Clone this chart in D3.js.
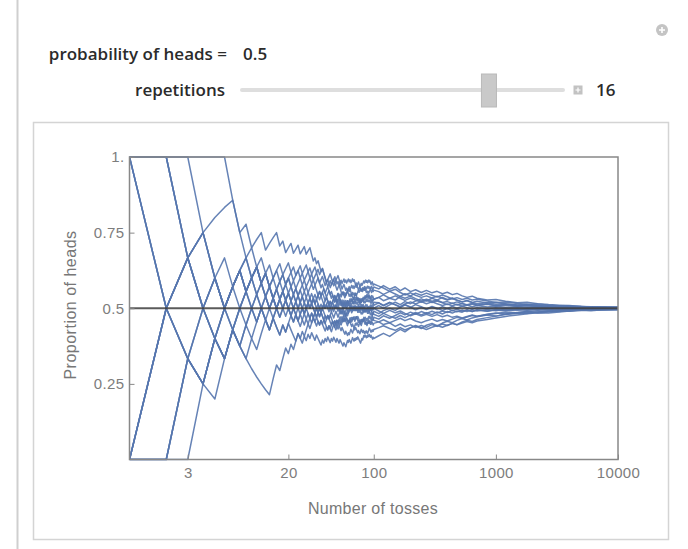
<!DOCTYPE html>
<html>
<head>
<meta charset="utf-8">
<script src="https://cdn.jsdelivr.net/npm/d3@7"></script>
<style>
  body { margin: 0; background: #fff; }
  svg { display: block; }
  .ctl { font-family: "Open Sans", "Noto Sans", sans-serif; font-size: 17px; fill: #2b2b2b; font-weight: 600; }
  .ax text { font-family: "Liberation Sans", Arial, sans-serif; font-size: 15px; fill: #7d7d7d; letter-spacing: 0.4px; }
  .ax line { stroke: #888; stroke-width: 1; }
</style>
</head>
<body>
<svg id="chart" width="688" height="549"></svg>
<script>
// controls
const probHeads = '0.5';
const repetitions = 16;

// axes
const xTicks = [3, 20, 100, 1000, 10000];
const yTicks = [0.25, 0.5, 0.75, 1];
const yTickLabels = ['0.25', '0.5', '0.75', '1.'];
const xTitle = 'Number of tosses';
const yTitle = 'Proportion of heads';

// first 100 tosses of each run, 1 = heads (spaces only for reading)
const tosses = [
  '1011001 101101001101101011010110101100100 0110100101 1010110011 1001011010 1000100110 1101011010 1100010101',
  '100011 0110100010010100010010101001000101 0100101001 0010001001 1010011001 0101000011 0110100101 0100100010',
  '11001011 01100101001101001010110100100110 1001011010 0100101001 0111001101 0101100110 0010110100 1000100110',
  '11010 000000000 11011010110101101100101000 1010011001 1101011010 0010110100 1100010101 0101000011 1001011010',
  '1110001101 001010011001000110100101001011 0101100110 0110100101 1011010110 1010011001 0100101001 0111001101',
  '1111110010 110111 01011011011011 0010100100 0010110100 1100010101 1110110101 1010011001 1011010110 1010110011',
  '0111111000101 010110100101101011010010110 1100010101 1000100110 1010110011 0110100101 1001011010 1010011001',
  '010011110 1101011010110110101101011001100 1101011010 1010011001 0101000011 1011101101 0110100101 0111001101',
  '01101101110 01001011010010110100101101001 1001011010 0101000011 1101011010 1010011001 0010110100 0101100110',
  '0011101110110 101101101011011010110101100 0111001101 1001011010 1101011010 0101100110 1110110101 1010011001',
  '00101011 01010011010100101101001010110100 0101000011 0110100101 0010001001 1010011001 1100010101 0100101001',
  '0001011 0101101 01101001011001101001010110 1101011010 1100010101 1011010110 1010011001 1011101101 0010110100',
  '10100110 10110100110101101001011010110100 1000100110 1001011010 0101100110 0100101001 0111001101 0101000011',
  '010010100 1011010010110101001011010101000 0010110100 0100100010 0101100110 1000100110 0100101001 1100010101',
  '110000111 1010010110100100101101001001000 1100010101 0010110100 0111001101 0101000011 0110100101 1010011001',
  '0011001011 011010110010110100101101001010 1010110011 1010011001 0100101001 1001011010 1100010101 1011010110'
];

// proportion of heads after that, read at these toss counts
const lateN = [110,120,135,150,165,180,200,220,245,270,300,330,365,400,440,480,530,580,640,700,850,1000,1200,1500,1800,2200,2700,3300,4000,5000,6000,7500,10000];
const lateP = [
  [.536,.525,.533,.527,.539,.533,.540,.532,.524,.530,.523,.527,.519,.522,.516,.521,.515,.512,.516,.511,.514,.509,.512,.508,.510,.506,.508,.505,.506,.503,.504,.502,.503],
  [.409,.417,.407,.420,.430,.422,.435,.441,.433,.444,.450,.442,.451,.457,.452,.460,.466,.461,.468,.472,.478,.474,.481,.485,.483,.488,.491,.489,.493,.495,.494,.497,.496],
  [.473,.483,.474,.467,.476,.469,.478,.486,.478,.485,.479,.488,.481,.489,.484,.491,.487,.494,.489,.495,.491,.496,.493,.497,.495,.498,.496,.499,.497,.499,.498,.500,.499],
  [.455,.446,.452,.440,.448,.439,.445,.436,.443,.437,.446,.440,.448,.443,.450,.446,.455,.460,.456,.463,.469,.474,.479,.483,.486,.484,.488,.491,.490,.493,.495,.494,.496],
  [.509,.500,.511,.520,.512,.522,.515,.524,.531,.524,.533,.527,.536,.529,.534,.527,.521,.526,.519,.523,.517,.520,.514,.511,.513,.509,.507,.508,.505,.506,.504,.503,.502],
  [.564,.575,.563,.571,.558,.567,.555,.561,.552,.559,.551,.556,.548,.553,.545,.549,.541,.536,.540,.533,.527,.529,.523,.518,.520,.515,.512,.510,.508,.506,.505,.504,.503],
  [.518,.508,.519,.511,.503,.512,.504,.495,.503,.496,.504,.497,.505,.499,.506,.500,.507,.502,.497,.502,.498,.502,.499,.502,.500,.503,.501,.502,.500,.501,.500,.501,.500],
  [.555,.546,.556,.547,.539,.548,.541,.550,.543,.550,.543,.537,.544,.538,.531,.535,.529,.533,.527,.530,.524,.519,.521,.516,.513,.514,.510,.508,.509,.506,.505,.503,.504],
  [.491,.483,.493,.485,.491,.483,.475,.482,.474,.480,.473,.479,.472,.477,.470,.474,.468,.473,.478,.474,.480,.484,.481,.486,.489,.487,.491,.493,.492,.495,.496,.495,.497],
  [.573,.567,.556,.563,.552,.544,.551,.543,.536,.541,.534,.540,.533,.527,.532,.526,.521,.525,.519,.515,.518,.513,.515,.511,.508,.509,.506,.507,.505,.504,.502,.503,.502],
  [.455,.462,.452,.460,.467,.459,.466,.458,.452,.459,.464,.457,.463,.458,.464,.470,.466,.471,.476,.473,.479,.483,.487,.485,.489,.492,.490,.493,.495,.494,.496,.497,.497],
  [.536,.544,.533,.541,.533,.526,.534,.527,.520,.526,.519,.524,.518,.512,.517,.511,.516,.510,.514,.509,.513,.508,.511,.507,.509,.506,.504,.505,.503,.504,.502,.503,.501],
  [.482,.492,.500,.493,.503,.511,.503,.512,.505,.498,.506,.500,.493,.499,.492,.497,.490,.495,.489,.494,.490,.494,.491,.495,.493,.496,.494,.497,.496,.498,.497,.498,.498],
  [.436,.442,.433,.427,.436,.428,.436,.443,.436,.430,.437,.443,.437,.444,.450,.445,.451,.456,.452,.458,.463,.468,.473,.478,.482,.485,.484,.488,.491,.493,.492,.495,.495],
  [.464,.475,.467,.476,.485,.478,.487,.480,.489,.483,.490,.484,.491,.486,.493,.488,.494,.489,.495,.491,.496,.492,.497,.494,.498,.496,.499,.497,.499,.498,.499,.499,.500],
  [.518,.510,.519,.512,.505,.514,.521,.514,.522,.515,.521,.515,.509,.514,.508,.513,.507,.511,.505,.509,.504,.507,.503,.506,.503,.505,.502,.504,.502,.503,.501,.502,.501]
];

const svg = d3.select('#chart');

// left rule of the notebook cell
svg.append('line').attr('x1', 17.5).attr('x2', 17.5).attr('y1', 0).attr('y2', 549)
  .attr('stroke', '#cfcfcf').attr('stroke-width', 2);

// the little "+" options button, top right
const opt = svg.append('g').attr('transform', 'translate(662,30)');
opt.append('circle').attr('r', 6).attr('fill', '#c4c4c4');
opt.append('path').attr('d', 'M-3,0H3M0,-3V3').attr('stroke', '#fff').attr('stroke-width', 1.6);

// controls
svg.append('text').attr('class', 'ctl').attr('x', 227).attr('y', 60).attr('text-anchor', 'end').text('probability of heads =');
svg.append('text').attr('class', 'ctl').attr('x', 243).attr('y', 60).text(probHeads);
svg.append('text').attr('class', 'ctl').attr('x', 225).attr('y', 96).attr('text-anchor', 'end').text('repetitions');

// slider
const sl = d3.scaleLinear().domain([1, 20]).range([245, 554]);
svg.append('rect').attr('x', 240).attr('y', 88).attr('width', 325).attr('height', 4).attr('rx', 2)
  .attr('fill', '#dedede');
svg.append('rect').attr('x', sl(repetitions) - 7.5).attr('y', 74).attr('width', 15).attr('height', 33)
  .attr('fill', '#c9c9c9').attr('stroke', '#b9b9b9');
const pl = svg.append('g').attr('transform', 'translate(578,90)');
pl.append('rect').attr('x', -4.5).attr('y', -4.5).attr('width', 9).attr('height', 9).attr('fill', '#c2c2c2');
pl.append('path').attr('d', 'M-2.5,0H2.5M0,-2.5V2.5').attr('stroke', '#fff').attr('stroke-width', 1.2);
svg.append('text').attr('class', 'ctl').attr('x', 596).attr('y', 96).text(repetitions);

// plot panel
svg.append('rect').attr('x', 33.5).attr('y', 122.5).attr('width', 635).attr('height', 417)
  .attr('fill', '#fff').attr('stroke', '#d4d4d4').attr('stroke-width', 1.5);

const x = d3.scaleLog().domain([1, 10000]).range([129.5, 618]);
const y = d3.scaleLinear().domain([0, 1]).range([459.5, 157]);

svg.append('defs').append('clipPath').attr('id', 'clip')
  .append('rect').attr('x', x(1)).attr('y', y(1) - 1).attr('width', x(10000) - x(1)).attr('height', y(0) - y(1) + 2);

// build each run: running proportion over the toss string, then the later readings
const runs = tosses.map((s, i) => {
  const t = s.replace(/ /g, '');
  const pts = [];
  let h = 0;
  for (let k = 0; k < t.length; k++) {
    h += +t[k];
    pts.push([k + 1, h / (k + 1)]);
  }
  lateN.forEach((n, j) => pts.push([n, lateP[i][j]]));
  return pts;
});

const line = d3.line().x(d => x(d[0])).y(d => y(d[1]));

svg.append('g').attr('clip-path', 'url(#clip)')
  .selectAll('path').data(runs).join('path')
  .attr('d', line)
  .attr('fill', 'none')
  .attr('stroke', '#5576ae')
  .attr('stroke-width', 1.5)
  .attr('stroke-opacity', 0.9)
  .attr('stroke-linejoin', 'round');

// reference line at the true probability
svg.append('line').attr('x1', x(1)).attr('x2', x(10000)).attr('y1', y(0.5)).attr('y2', y(0.5))
  .attr('stroke', '#3d3d3d').attr('stroke-width', 2).attr('stroke-opacity', 0.85);

// frame
svg.append('rect').attr('x', x(1)).attr('y', y(1)).attr('width', x(10000) - x(1)).attr('height', y(0) - y(1))
  .attr('fill', 'none').attr('stroke', '#888').attr('stroke-width', 1.5);

// axes
const xAxis = d3.axisBottom(x).tickValues(xTicks).tickFormat(d3.format('d')).tickSize(-5).tickPadding(8);
const gx = svg.append('g').attr('class', 'ax').attr('transform', `translate(0,${y(0)})`).call(xAxis);
gx.select('.domain').remove();

const yAxis = d3.axisLeft(y).tickValues(yTicks).tickFormat((d, i) => yTickLabels[i]).tickSize(-5).tickPadding(5);
const gy = svg.append('g').attr('class', 'ax').attr('transform', `translate(${x(1)},0)`).call(yAxis);
gy.select('.domain').remove();

svg.append('text').attr('x', 373).attr('y', 514).attr('text-anchor', 'middle')
  .attr('font-family', '"Liberation Sans", Arial, sans-serif').attr('font-size', 16).attr('fill', '#777')
  .attr('letter-spacing', 0.3)
  .text(xTitle);
svg.append('text').attr('transform', 'translate(76,305) rotate(-90)').attr('text-anchor', 'middle')
  .attr('font-family', '"Liberation Sans", Arial, sans-serif').attr('font-size', 16).attr('fill', '#777')
  .attr('letter-spacing', 0.5)
  .text(yTitle);
</script>
</body>
</html>
